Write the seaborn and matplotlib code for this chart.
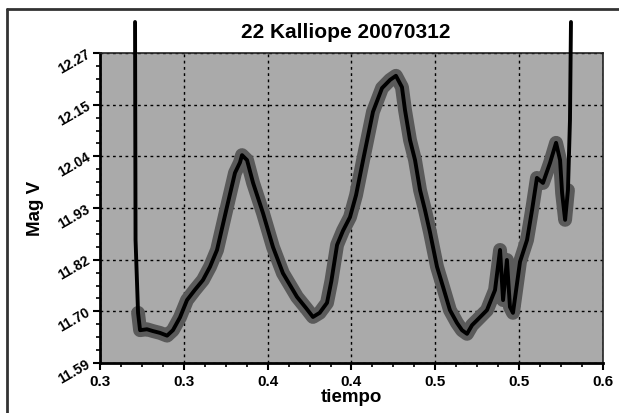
import numpy as np
import pandas as pd
import matplotlib
matplotlib.use("Agg")
import matplotlib.pyplot as plt
from matplotlib.lines import Line2D
import seaborn as sns

# ---- data ----
tiempo = [0.3209, 0.3212, 0.3227, 0.3239, 0.3280, 0.3316, 0.3358, 0.3400, 0.3435, 0.3477,
          0.3519, 0.3565, 0.3614, 0.3656, 0.3698, 0.3757, 0.3805, 0.3835, 0.3847, 0.3877,
          0.3913, 0.3972, 0.4032, 0.4091, 0.4175, 0.4230, 0.4270, 0.4310, 0.4354, 0.4380,
          0.4414, 0.4449, 0.4491, 0.4527, 0.4569, 0.4628, 0.4682, 0.4730, 0.4765, 0.4801,
          0.4819, 0.4849, 0.4879, 0.4909, 0.4938, 0.4968, 0.5010, 0.5046, 0.5087, 0.5129,
          0.5159, 0.5189, 0.5219, 0.5249, 0.5308, 0.5356, 0.5386, 0.5404, 0.5427, 0.5445,
          0.5463, 0.5505, 0.5547, 0.5577, 0.5606, 0.5642, 0.5684, 0.5720, 0.5744, 0.5756,
          0.5774, 0.5791, 0.5803, 0.5809]
mag_v = [12.338, 11.860, 11.700, 11.662, 11.664, 11.660, 11.656, 11.650, 11.662, 11.690,
         11.728, 11.750, 11.772, 11.801, 11.838, 11.932, 12.007, 12.030, 12.046, 12.035,
         11.985, 11.919, 11.844, 11.787, 11.735, 11.710, 11.691, 11.700, 11.722, 11.770,
         11.849, 11.880, 11.910, 11.958, 12.035, 12.141, 12.193, 12.211, 12.220, 12.195,
         12.145, 12.079, 12.035, 11.969, 11.926, 11.877, 11.801, 11.757, 11.706, 11.678,
         11.662, 11.654, 11.673, 11.684, 11.706, 11.750, 11.838, 11.728, 11.816, 11.713,
         11.700, 11.812, 11.860, 11.926, 11.996, 11.985, 12.029, 12.073, 12.035, 11.963,
         11.904, 11.969, 12.123, 12.338]

x_ticks = [0.30, 0.35, 0.40, 0.45, 0.50, 0.55, 0.60]
x_tick_labels = ["0.3", "0.3", "0.4", "0.4", "0.5", "0.5", "0.6"]
y_ticks = [11.59, 11.70333, 11.81667, 11.93, 12.04333, 12.15667, 12.27]
y_tick_labels = ["11.59", "11.70", "11.82", "11.93", "12.04", "12.15", "12.27"]
title = "22 Kalliope 20070312"

df = pd.DataFrame({"tiempo": tiempo, "mag": mag_v})
halo = df.iloc[2:-2]

sns.set_theme(style="white")
plt.rcParams["font.family"] = ["Liberation Sans", "DejaVu Sans"]
plt.rcParams.update({"text.color": "black", "axes.labelcolor": "black",
                     "xtick.color": "black", "ytick.color": "black"})

fig = plt.figure(figsize=(6.19, 4.13), dpi=100)
ax = fig.add_axes([100 / 619, 1 - 363 / 413, 503 / 619, 310 / 413])
ax.set_facecolor("#aaaaaa")

sns.lineplot(data=halo, x="tiempo", y="mag", sort=False, estimator=None,
             color="#5a5a5a", linewidth=10, ax=ax, zorder=3,
             solid_capstyle="round", solid_joinstyle="round")
sns.lineplot(data=df, x="tiempo", y="mag", sort=False, estimator=None,
             color="black", linewidth=2.8, ax=ax, zorder=4, clip_on=False)

ax.set_xlim(0.30, 0.60)
ax.set_ylim(11.59, 12.27)
ax.set_xticks(x_ticks)
ax.set_xticklabels(x_tick_labels, fontsize=11, fontweight="bold")
ax.set_yticks(y_ticks)
ax.set_yticklabels(y_tick_labels, fontsize=10, fontweight="bold",
                   rotation=30, ha="right", va="center", rotation_mode="anchor")
ax.set_xticks(np.arange(0.30, 0.6001, 0.0125), minor=True)
ax.set_yticks(np.linspace(11.59, 12.27, 25), minor=True)
ax.tick_params(axis="both", which="major", direction="out", length=5, width=1.5,
               color="black", bottom=True, left=True)
ax.tick_params(axis="both", which="minor", direction="out", length=3, width=1.2,
               color="black", bottom=True, left=True)
ax.tick_params(axis="y", which="major", pad=3)

ax.grid(True, which="major", color="black", linestyle=(0, (2, 2.5)), linewidth=1)
ax.set_axisbelow(True)
for side in ["left", "bottom"]:
    ax.spines[side].set_linewidth(2)
    ax.spines[side].set_color("black")
for side in ["top", "right"]:
    ax.spines[side].set_linewidth(1.2)
    ax.spines[side].set_color("#222222")

ax.set_xlabel("tiempo", fontsize=13.5, fontweight="bold", labelpad=0)
ax.set_ylabel("Mag V", fontsize=13.5, fontweight="bold", labelpad=8)
fig.text(346 / 619, 1 - 33 / 413, title, fontsize=15, fontweight="bold",
         ha="center", va="center")

# outer frame (left and top edges visible)
fig.add_artist(Line2D([7 / 619, 7 / 619], [0, 1 - 9 / 413], transform=fig.transFigure,
                      color="#333333", linewidth=2))
fig.add_artist(Line2D([7 / 619, 1], [1 - 9 / 413, 1 - 9 / 413], transform=fig.transFigure,
                      color="#333333", linewidth=2))

fig.savefig("out.png", dpi=100, facecolor="white")
